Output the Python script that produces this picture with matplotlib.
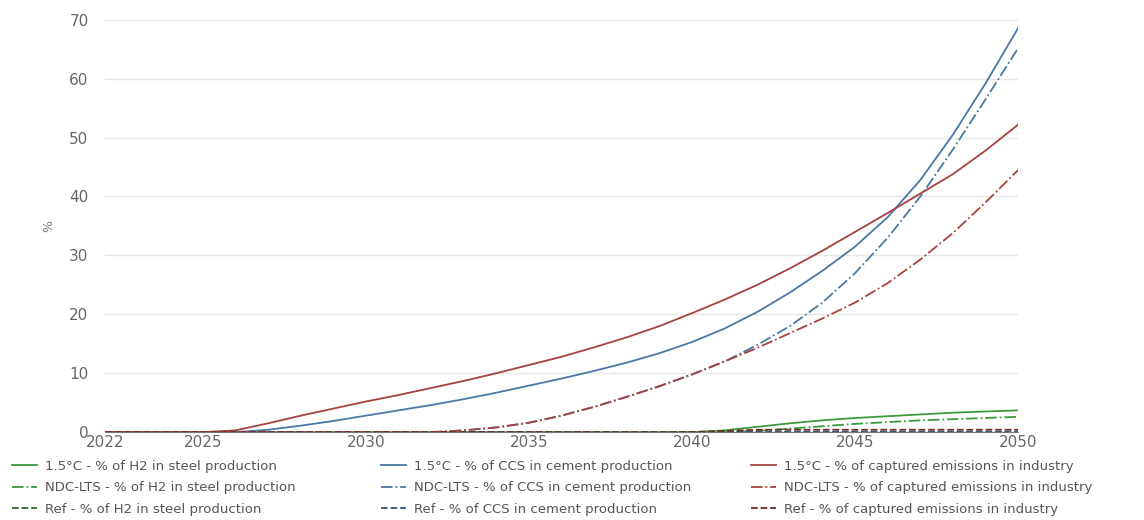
import matplotlib
matplotlib.use("Agg")
import matplotlib.pyplot as plt

years = list(range(2022, 2051))

# 1.5°C scenario
h2_15 = [0, 0, 0, 0, 0, 0, 0, 0, 0, 0, 0, 0, 0, 0, 0, 0, 0, 0, 0, 0.3,
         0.9, 1.5, 2.0, 2.4, 2.7, 3.0, 3.3, 3.5, 3.7]
ccs_15 = [0, 0, 0, 0, 0, 0.4, 1.1, 1.9, 2.8, 3.7, 4.6, 5.6, 6.7, 7.9, 9.1, 10.4, 11.8, 13.4, 15.3,
          17.6, 20.4, 23.7, 27.4, 31.5, 36.5, 42.8, 50.5, 59.2, 68.6]
cap_15 = [0, 0, 0, 0, 0.3, 1.5, 2.8, 4.0, 5.2, 6.3, 7.5, 8.7, 10.0, 11.4, 12.8, 14.4, 16.1, 18.0,
          20.2, 22.5, 25.0, 27.8, 30.8, 34.0, 37.2, 40.5, 43.8, 47.8, 52.2]

# NDC-LTS scenario
h2_ndc = [0, 0, 0, 0, 0, 0, 0, 0, 0, 0, 0, 0, 0, 0, 0, 0, 0, 0, 0, 0,
          0.2, 0.6, 1.0, 1.4, 1.7, 2.0, 2.2, 2.4, 2.6]
ccs_ndc = [0, 0, 0, 0, 0, 0, 0, 0, 0, 0, 0, 0.3, 0.8, 1.6, 2.8, 4.3, 6.0, 7.8, 9.8,
           12.0, 14.8, 18.0, 22.0, 27.0, 33.0, 40.0, 48.0, 56.5, 65.2]
cap_ndc = [0, 0, 0, 0, 0, 0, 0, 0, 0, 0, 0, 0.3, 0.8, 1.6, 2.8, 4.3, 6.0, 7.8, 9.8,
           12.0, 14.3, 16.8, 19.3, 22.0, 25.3, 29.3, 33.8, 39.0, 44.5]

# Ref scenario
h2_ref = [0] * 29
ccs_ref = [0] * 29
cap_ref = [0, 0, 0, 0, 0, 0, 0, 0, 0, 0, 0, 0, 0, 0, 0, 0, 0, 0, 0, 0.2,
           0.4, 0.4, 0.4, 0.4, 0.4, 0.4, 0.4, 0.4, 0.4]

xticks = [2022, 2025, 2030, 2035, 2040, 2045, 2050]

green = "#3d9a3d"
blue = "#4a78a6"
red = "#a6423f"

groups = [
    [("1.5°C - % of H2 in steel production", h2_15, green, "-"),
     ("NDC-LTS - % of H2 in steel production", h2_ndc, green, "-."),
     ("Ref - % of H2 in steel production", h2_ref, "#2f6b2f", "--")],
    [("1.5°C - % of CCS in cement production", ccs_15, blue, "-"),
     ("NDC-LTS - % of CCS in cement production", ccs_ndc, blue, "-."),
     ("Ref - % of CCS in cement production", ccs_ref, "#33557a", "--")],
    [("1.5°C - % of captured emissions in industry", cap_15, red, "-"),
     ("NDC-LTS - % of captured emissions in industry", cap_ndc, red, "-."),
     ("Ref - % of captured emissions in industry", cap_ref, "#6e2a2a", "--")],
]

fig = plt.figure(figsize=(11.44, 5.2), dpi=100)
ax = fig.add_axes([0.092, 0.169, 0.798, 0.793])

handles = []
for grp in groups:
    hs = []
    for label, vals, col, ls in grp:
        ln, = ax.plot(years, vals, color=col, linestyle=ls, linewidth=1.3, label=label)
        hs.append(ln)
    handles.append(hs)

ax.set_xlim(2022, 2050)
ax.set_ylim(0, 70)
ax.set_xticks(xticks)
ax.set_yticks(range(0, 80, 10))
ax.grid(axis="y", color="#e8e8e8", linewidth=1)
ax.set_axisbelow(True)
for s in ["top", "right", "left"]:
    ax.spines[s].set_visible(False)
ax.spines["bottom"].set_color("#777777")
ax.tick_params(axis="both", length=0, labelsize=11, colors="#666666")
ax.tick_params(axis="x", pad=2)
ax.tick_params(axis="y", pad=12)
ax.set_ylabel("%", color="#777777", fontsize=9, labelpad=10)

# one legend per indicator column, placed at fixed x positions
for hs, x0 in zip(handles, [0.0, 0.323, 0.646]):
    leg = fig.legend(handles=hs, loc="upper left", bbox_to_anchor=(x0, 0.139),
                     frameon=False, fontsize=9.5, handlelength=1.9, handletextpad=0.6,
                     labelspacing=0.65)
    for t in leg.get_texts():
        t.set_color("#555555")

fig.savefig("out.png", dpi=100)
